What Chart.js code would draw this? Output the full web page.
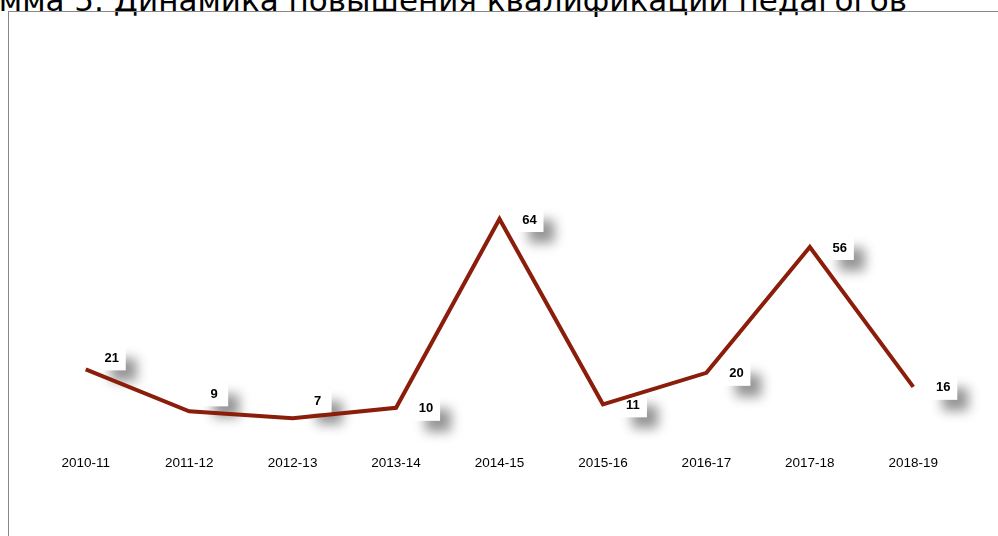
<!DOCTYPE html>
<html>
<head>
<meta charset="utf-8">
<script src="https://cdn.jsdelivr.net/npm/chart.js@4"></script>
<style>
  html, body { margin: 0; padding: 0; background: #fff; overflow: hidden; }
  #wrap { position: relative; width: 998px; height: 536px; overflow: hidden; }
  #title {
    position: absolute; right: 91px; top: -15px;
    font-family: "DejaVu Sans", sans-serif; font-size: 31px; line-height: 1;
    white-space: nowrap; color: #000;
  }
  #frame {
    position: absolute; left: 8px; top: 11px; width: 1100px; height: 600px;
    border-left: 1px solid #888; border-top: 1px solid #888;
  }
  #chart { position: absolute; left: 9px; top: 12px; }
</style>
</head>
<body>
<div id="wrap">
  <div id="title">Диаграмма 5. Динамика повышения квалификации педагогов</div>
  <div id="frame"></div>
  <canvas id="chart" width="989" height="524"></canvas>
</div>
<script>
const YEARS = ["2010-11", "2011-12", "2012-13", "2013-14", "2014-15", "2015-16", "2016-17", "2017-18", "2018-19"];
const TEACHERS = [21, 9, 7, 10, 64, 11, 20, 56, 16];

// where each value label sits relative to its point (x, y in px)
const LABEL_SHIFT = [[26, -11], [25, -17], [25, -17], [30, 1], [30, 1], [30, 1], [30, 1], [30, 1], [30, 1]];

const valueLabels = {
  id: "valueLabels",
  beforeDatasetsDraw(chart) {
    const ctx = chart.ctx;
    const meta = chart.getDatasetMeta(0);
    ctx.save();
    ctx.font = "bold 13px 'Liberation Sans', Arial, sans-serif";
    ctx.textAlign = "center";
    ctx.textBaseline = "middle";
    meta.data.forEach((pt, i) => {
      const [dx, dy] = LABEL_SHIFT[i];
      const x = pt.x + dx;
      const y = pt.y + dy;
      ctx.save();
      ctx.shadowColor = "rgba(0,0,0,0.42)";
      ctx.shadowBlur = 12;
      ctx.shadowOffsetX = 11;
      ctx.shadowOffsetY = 11;
      ctx.fillStyle = "#fff";
      ctx.fillRect(x - 12, y - 11, 26, 23);
      ctx.restore();
      ctx.fillStyle = "#000";
      ctx.fillText(String(TEACHERS[i]), x, y);
    });
    ctx.restore();
  },
};

new Chart(document.getElementById("chart"), {
  type: "line",
  data: {
    labels: YEARS,
    datasets: [{
      data: TEACHERS,
      borderColor: "rgb(139, 30, 10)",
      borderWidth: 4,
      pointRadius: 0,
      tension: 0,
      fill: false,
    }],
  },
  options: {
    responsive: false,
    animation: false,
    layout: { padding: { left: 25, right: 33, top: 186, bottom: 61 } },
    scales: {
      x: {
        offset: true,
        grid: { display: false },
        border: { display: false },
        ticks: {
          color: "#000",
          padding: 4,
          font: { family: "'Liberation Sans', Arial, sans-serif", size: 13.5 },
          maxRotation: 0,
        },
      },
      y: { display: false, min: 0, max: 70 },
    },
    plugins: {
      legend: { display: false },
      tooltip: { enabled: false },
    },
  },
  plugins: [valueLabels],
});
</script>
</body>
</html>
